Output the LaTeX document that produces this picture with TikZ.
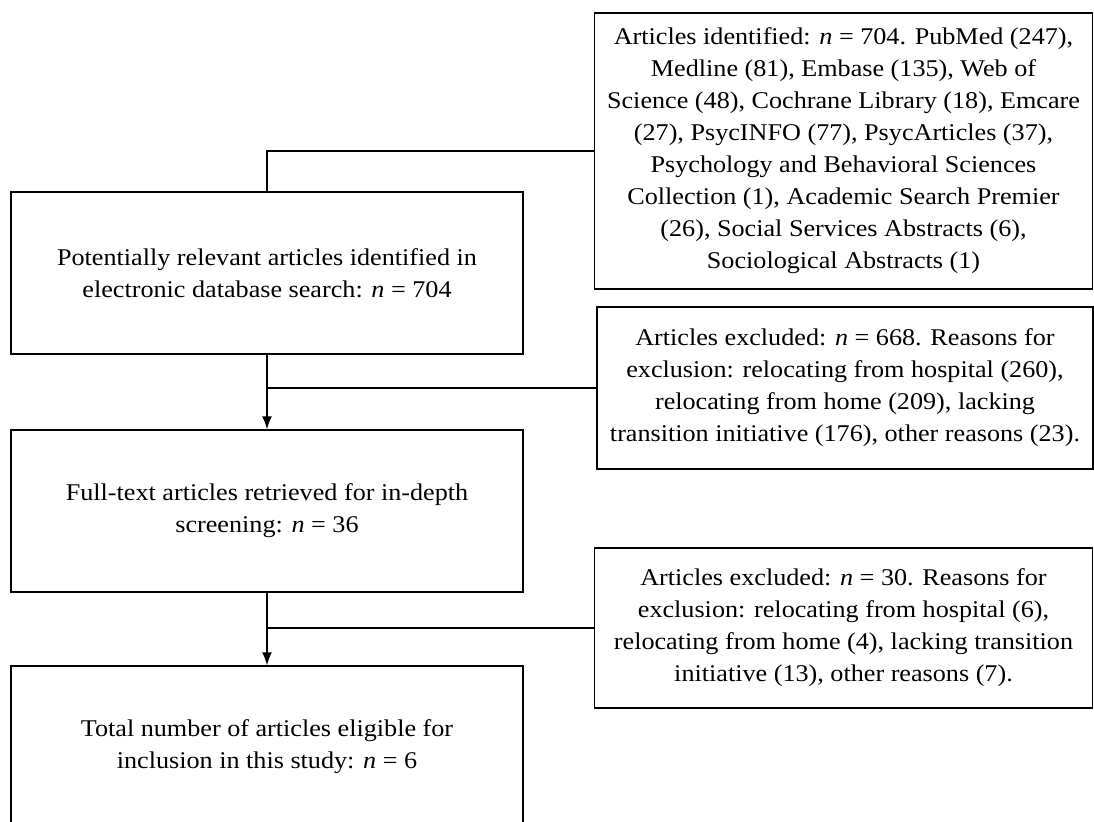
\documentclass[tikz,border=0pt]{standalone}
\usepackage{fontspec}
\setmainfont{Liberation Serif}[FakeStretch=1.09]
\usetikzlibrary{arrows.meta}
\begin{document}
\begin{tikzpicture}[x=0.5pt,y=-0.5pt,
    flowbox/.style={draw, line width=0.7pt, align=center, inner sep=0pt, font=\fontsize{12}{16}\selectfont},
    link/.style={line width=0.75pt},
    arrowlink/.style={link, -{Latex[length=6.5pt,width=5pt]}}]
      \useasboundingbox (0,0) rectangle (1094,821);
      \clip (0,0) rectangle (1094,821);
      \node[flowbox, minimum width=249pt, minimum height=138pt] (dbs) at (843.5,151) {Articles identified: \textit{n} = 704. PubMed (247),\\ Medline (81), Embase (135), Web of\\ Science (48), Cochrane Library (18), Emcare\\ (27), PsycINFO (77), PsycArticles (37),\\ Psychology and Behavioral Sciences\\ Collection (1), Academic Search Premier\\ (26), Social Services Abstracts (6),\\ Sociological Abstracts (1)};
      \node[flowbox, minimum width=256pt, minimum height=81pt] (ident) at (267,273) {Potentially relevant articles identified in\\ electronic database search: \textit{n} = 704};
      \node[flowbox, minimum width=248pt, minimum height=81pt] (excl1) at (845,388) {Articles excluded: \textit{n} = 668. Reasons for\\ exclusion: relocating from hospital (260),\\ relocating from home (209), lacking\\ transition initiative (176), other reasons (23).};
      \node[flowbox, minimum width=256pt, minimum height=81pt] (full) at (267,511) {Full-text articles retrieved for in-depth\\ screening: \textit{n} = 36};
      \node[flowbox, minimum width=249pt, minimum height=80pt] (excl2) at (843.5,628) {Articles excluded: \textit{n} = 30. Reasons for\\ exclusion: relocating from hospital (6),\\ relocating from home (4), lacking transition\\ initiative (13), other reasons (7).};
      \node[flowbox, minimum width=256pt, minimum height=81pt] (incl) at (267,747) {Total number of articles eligible for\\ inclusion in this study: \textit{n} = 6};
      \draw[link] (dbs.west) -| (ident.north);
      \draw[arrowlink] (ident.south) -- (full.north);
      \draw[link] (excl1.west) -- (ident.south |- excl1.west);
      \draw[arrowlink] (full.south) -- (incl.north);
      \draw[link] (excl2.west) -- (full.south |- excl2.west);
\end{tikzpicture}
\end{document}
